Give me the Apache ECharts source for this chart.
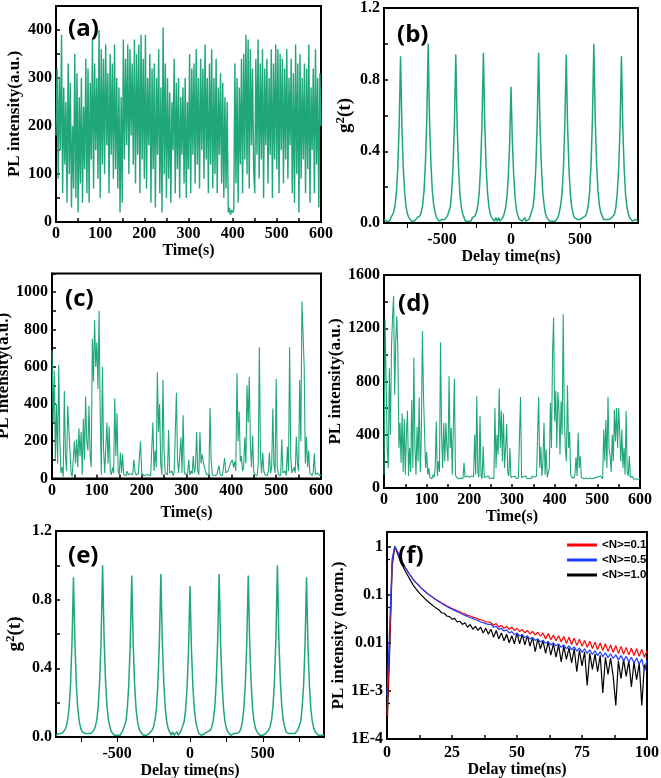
<!DOCTYPE html>
<html><head><meta charset="utf-8">
<script src="https://cdn.jsdelivr.net/npm/echarts@6/dist/echarts.min.js"></script>
<style>html,body{margin:0;padding:0;background:#fff}#c{width:661px;height:778px}</style>
</head><body><div id="c"></div><script>
// ---------------- DATA ----------------
const traceTimeStep = 2.5; // s, sampling of blinking traces (0..600 s)
const aIntensity = [
180,320,90,300,150,390,60,280,120,250,40,330,100,290,30,200,70,350,50,310,
20,260,80,300,40,240,110,340,60,320,40,290,130,380,70,330,150,300,90,400,
50,360,120,340,100,370,160,310,60,350,140,330,90,370,110,300,70,280,20,260,
40,380,130,340,160,370,100,360,180,330,120,380,80,350,140,370,60,390,130,340,
90,390,70,300,160,350,40,320,110,330,30,300,140,360,60,280,20,405,100,330,
50,300,90,270,40,250,150,340,60,290,110,300,50,260,140,280,80,300,50,250,
110,350,60,320,140,330,80,360,120,300,70,340,150,320,90,370,130,300,60,330,
120,360,70,300,100,340,60,280,140,310,80,290,50,260,70,250,20,30,15,25,
20,25,330,80,300,40,280,120,340,60,350,130,390,100,380,70,360,160,320,110,
60,340,140,380,90,330,130,360,50,320,160,340,80,300,140,360,50,330,130,370,
110,360,60,350,150,340,80,320,130,360,90,300,160,340,60,310,40,370,100,330,
20,350,90,300,130,330,60,320,110,370,40,280,150,320,60,360,120,300,30,310,
200];
const cIntensity = [
690,300,580,100,400,80,610,200,30,60,10,470,120,40,390,380,150,30,10,20,
200,80,210,60,270,120,250,20,320,100,440,200,150,390,120,60,750,520,850,600,
730,480,900,350,20,600,160,30,20,300,80,280,40,20,60,30,430,120,350,40,
20,140,30,130,20,30,15,40,20,15,25,15,20,100,40,20,15,25,15,200,
30,20,15,25,20,15,20,25,15,20,300,40,150,60,570,250,400,80,20,530,
150,30,40,20,260,30,20,40,15,30,20,460,100,30,20,220,30,340,40,20,
15,30,100,20,40,25,120,30,60,250,40,20,250,80,130,90,60,40,20,30,
20,380,100,20,30,15,25,20,15,70,20,30,15,20,110,30,20,40,60,80,
80,100,60,90,40,565,200,360,90,120,40,60,220,80,500,300,546,180,60,230,
40,20,30,15,80,704,120,30,140,40,20,30,15,40,140,30,60,376,80,30,
534,60,20,30,15,210,30,20,40,15,170,40,704,120,30,20,60,30,224,80,
40,528,200,950,940,600,80,224,60,150,30,20,15,30,135,20,15,30,20,15,
20];
const dIntensity = [
100,1268,816,300,150,900,400,1050,1281,1444,700,1100,1290,1017,300,490,190,560,120,520,
100,400,580,90,300,120,660,150,980,300,100,460,200,680,120,400,1180,700,420,150,
270,100,150,80,90,70,100,80,150,500,90,200,120,1093,400,150,490,200,490,300,
200,841,300,450,100,90,820,100,80,90,70,85,75,90,70,190,80,70,90,75,
80,70,90,75,85,400,100,690,120,80,540,90,70,313,80,70,85,75,90,70,
80,75,90,70,603,150,400,250,748,300,580,200,560,150,300,480,120,90,300,80,
70,85,75,90,70,80,75,90,683,80,70,85,75,90,70,80,75,85,70,90,
75,80,70,90,80,683,150,310,90,200,490,100,290,80,90,150,640,300,1000,1281,
500,730,300,720,590,250,650,400,1306,560,300,200,772,300,420,100,80,90,75,100,
230,90,414,150,240,80,90,70,85,75,90,70,80,75,90,70,85,75,65,80,
70,85,75,90,80,70,440,200,510,150,685,300,240,120,400,200,590,350,600,300,
600,420,200,440,150,300,100,578,120,90,240,80,70,85,65,80,70,85,65,75,
70];
const g2Start = -920, g2End = 920, g2Step = 10; // ns
const g2TickValues = [-750, -500, -250, 0, 250, 500, 750];
const g2LabelValues = [-500, 0, 500];
const bG2 = [
0.02,0.01,
0.01,0.02,0.01,0.03,0.04,0.06,0.10,0.17,0.31,0.55,0.93,0.53,0.30,0.17,0.09,0.05,0.03,0.02,0.01,0.02,
0.01,0.02,0.03,0.02,0.04,0.06,0.10,0.18,0.33,0.58,1.00,0.57,0.33,0.18,0.10,0.06,0.03,0.02,0.01,0.01,
0.02,0.01,0.02,0.03,0.04,0.05,0.09,0.17,0.31,0.55,0.94,0.54,0.31,0.16,0.09,0.05,0.03,0.01,0.02,0.01,
0.02,0.01,0.03,0.02,0.04,0.06,0.10,0.17,0.32,0.56,0.95,0.55,0.31,0.17,0.09,0.05,0.03,0.02,0.01,0.03,
0.01,0.03,0.01,0.02,0.03,0.05,0.08,0.14,0.25,0.44,0.76,0.45,0.26,0.14,0.07,0.04,0.02,0.03,0.01,0.02,
0.03,0.01,0.02,0.02,0.04,0.05,0.09,0.17,0.31,0.56,0.95,0.55,0.32,0.17,0.10,0.05,0.03,0.02,0.01,0.02,
0.01,0.02,0.01,0.02,0.03,0.06,0.10,0.17,0.31,0.55,0.94,0.54,0.30,0.16,0.09,0.05,0.03,0.02,0.02,0.01,
0.02,0.01,0.03,0.02,0.04,0.06,0.10,0.18,0.33,0.58,1.00,0.58,0.33,0.18,0.10,0.06,0.04,0.02,0.01,0.02,
0.01,0.02,0.02,0.03,0.04,0.05,0.09,0.17,0.30,0.54,0.93,0.53,0.30,0.16,0.09,0.05,0.03,0.02,0.01,0.01,
0.02,0.01,0.01];
const eG2 = [
0.01,0.02,
0.02,0.01,0.02,0.02,0.04,0.06,0.10,0.17,0.31,0.55,0.93,0.54,0.30,0.16,0.09,0.05,0.03,0.02,0.02,0.01,
0.02,0.01,0.02,0.03,0.04,0.06,0.10,0.18,0.33,0.58,1.00,0.58,0.33,0.18,0.10,0.06,0.03,0.02,0.01,0.02,
0.01,0.02,0.01,0.02,0.04,0.05,0.09,0.17,0.31,0.55,0.94,0.54,0.30,0.16,0.09,0.05,0.03,0.02,0.01,0.02,
0.01,0.02,0.02,0.03,0.04,0.06,0.10,0.17,0.32,0.56,0.95,0.55,0.32,0.17,0.09,0.05,0.03,0.01,0.03,0.01,
0.02,0.03,0.01,0.02,0.04,0.05,0.09,0.16,0.29,0.51,0.88,0.51,0.29,0.16,0.09,0.05,0.02,0.03,0.01,0.02,
0.02,0.01,0.03,0.02,0.04,0.06,0.10,0.17,0.32,0.56,0.95,0.55,0.31,0.17,0.09,0.05,0.03,0.02,0.01,0.02,
0.02,0.01,0.02,0.01,0.03,0.05,0.09,0.17,0.31,0.55,0.94,0.54,0.31,0.16,0.09,0.05,0.03,0.02,0.01,0.02,
0.01,0.02,0.02,0.03,0.04,0.06,0.10,0.18,0.33,0.58,1.00,0.57,0.33,0.18,0.10,0.06,0.03,0.02,0.02,0.01,
0.02,0.01,0.02,0.02,0.04,0.05,0.09,0.17,0.30,0.54,0.93,0.53,0.30,0.16,0.09,0.05,0.03,0.02,0.01,0.02,
0.01,0.02,0.01];
const decayStep = 1; // ns, 0..100 ns
const decayN01 = [
0.0003,0.01,0.5,1.0,0.78,0.58,0.45,0.36,0.30,0.25,
0.21,0.18,0.16,0.14,0.125,0.112,0.101,0.093,0.085,0.078,
0.073,0.067,0.063,0.058,0.055,0.051,0.049,0.046,0.044,0.041,
0.040,0.037,0.036,0.034,0.033,0.031,0.030,0.029,0.027,0.027,
0.026,0.023,0.025,0.021,0.023,0.020,0.022,0.019,0.021,0.018,
0.020,0.017,0.019,0.016,0.018,0.0152,0.0172,0.0145,0.0165,0.0138,
0.016,0.012,0.0155,0.0115,0.0145,0.011,0.014,0.0105,0.0135,0.0098,
0.013,0.0092,0.0125,0.0088,0.0118,0.0085,0.0112,0.008,0.0108,0.0076,
0.0103,0.0072,0.0099,0.0069,0.0095,0.0066,0.009,0.0063,0.0087,0.006,
0.0084,0.0058,0.008,0.0056,0.0077,0.0054,0.0075,0.0052,0.0073,0.005,
0.0068];
const decayN05 = [
0.0008,0.02,0.55,1.0,0.8,0.6,0.46,0.37,0.30,0.25,
0.21,0.18,0.16,0.14,0.125,0.112,0.1,0.092,0.084,0.077,
0.071,0.066,0.061,0.057,0.053,0.05,0.047,0.044,0.042,0.039,
0.037,0.035,0.033,0.032,0.030,0.029,0.027,0.026,0.025,0.024,
0.024,0.021,0.022,0.019,0.02,0.0175,0.0185,0.016,0.017,0.0148,
0.0158,0.0138,0.0147,0.0128,0.0137,0.012,0.0128,0.0112,0.012,0.0104,
0.0113,0.0097,0.0106,0.009,0.01,0.0085,0.0095,0.008,0.009,0.0075,
0.0086,0.0071,0.0082,0.0067,0.0078,0.0063,0.0075,0.006,0.0071,0.0057,
0.0068,0.0054,0.0065,0.0051,0.0062,0.0049,0.0059,0.0047,0.0056,0.0044,
0.0054,0.0042,0.0052,0.004,0.005,0.0038,0.0048,0.0036,0.0046,0.0026,
0.0044];
const decayN10 = [
0.00015,0.006,0.4,1.0,0.72,0.52,0.4,0.31,0.25,0.2,
0.16,0.135,0.115,0.1,0.089,0.078,0.07,0.063,0.057,0.052,
0.048,0.042,0.041,0.036,0.035,0.031,0.032,0.027,0.028,0.024,
0.026,0.021,0.024,0.019,0.022,0.018,0.021,0.016,0.02,0.015,
0.019,0.013,0.018,0.012,0.016,0.011,0.015,0.01,0.014,0.0095,
0.016,0.0095,0.015,0.009,0.014,0.0085,0.013,0.0065,0.012,0.0075,
0.011,0.006,0.0105,0.0055,0.0095,0.005,0.009,0.004,0.0085,0.0045,
0.0078,0.0038,0.0075,0.0025,0.007,0.0033,0.0065,0.0013,0.006,0.0028,
0.0058,0.0025,0.0055,0.0009,0.005,0.0022,0.0048,0.002,0.0005,0.0042,
0.0018,0.0045,0.002,0.0042,0.0012,0.004,0.0017,0.0038,0.0005,0.0035,
0.0025];
const decayLabels = ['<N>=0.1', '<N>=0.5', '<N>=1.0'];
const panelLabels = ['(a)', '(b)', '(c)', '(d)', '(e)', '(f)'];

// ---------------- CHART ----------------
const SERIF = '"Liberation Serif","Times New Roman",serif';
const GREEN = '#1fa67a';
const lbl = {fontFamily: SERIF, fontWeight: 'bold', fontSize: 16, color: '#000'};
const toXY = (vals, start, step) => vals.map((v, i) => [start + i * step, v]);
const every = (step, digits) => v => {
  const r = v / step;
  return Math.abs(r - Math.round(r)) < 1e-6 ? (digits ? v.toFixed(digits) : String(Math.round(v))) : '';
};

function axis(o) {
  const base = {
    type: 'value', nameLocation: 'middle',
    axisLine: {show: true, onZero: false, lineStyle: {color: '#000', width: 2}},
    axisTick: {show: true, inside: true, length: 4, lineStyle: {color: '#000', width: 1.5}},
    splitLine: {show: false},
    nameTextStyle: Object.assign({}, lbl),
  };
  const res = Object.assign(base, o);
  res.axisLabel = Object.assign({}, lbl, {margin: 4}, o.axisLabel || {});
  res.axisTick = Object.assign({}, base.axisTick, o.axisTick || {});
  return res;
}

const grids = [
  {left: 56, top: 6, width: 265, height: 216},
  {left: 384, top: 8, width: 254, height: 215},
  {left: 52, top: 273.5, width: 269, height: 205},
  {left: 384, top: 275, width: 256, height: 213},
  {left: 56, top: 531, width: 268, height: 206},
  {left: 387, top: 532, width: 260, height: 207},
].map(g => Object.assign({show: true, borderColor: '#000', borderWidth: 2, containLabel: false, outerBoundsMode: 'none'}, g));

const g2Name = '{n|g}{s|2}{n|(t)}';
const g2Rich = {
  n: {fontFamily: SERIF, fontWeight: 'bold', fontSize: 19, lineHeight: 22, color: '#000'},
  s: {fontFamily: SERIF, fontWeight: 'bold', fontSize: 13, lineHeight: 13, verticalAlign: 'top', color: '#000'}
};
const g2X = (gi, gap) => axis({
  gridIndex: gi, min: g2Start, max: g2End, name: 'Delay time(ns)', nameGap: gap,
  axisTick: {customValues: g2TickValues},
  axisLabel: {customValues: g2LabelValues, formatter: v => String(v), margin: 9}
});

const xAxes = [
  axis({gridIndex: 0, min: 0, max: 600, interval: 50, name: 'Time(s)', nameGap: 20, axisLabel: {formatter: every(100)}}),
  g2X(1, 25),
  axis({gridIndex: 2, min: 0, max: 600, interval: 50, name: 'Time(s)', nameGap: 26, axisLabel: {formatter: every(100)}}),
  axis({gridIndex: 3, min: 0, max: 600, interval: 50, name: 'Time(s)', nameGap: 20, axisLabel: {formatter: every(100)}}),
  g2X(4, 26),
  axis({gridIndex: 5, min: 0, max: 100, interval: 12.5, name: 'Delay time(ns)', nameGap: 20, axisLabel: {formatter: every(25), margin: 6}}),
];
const logFmt = v => {
  const e = Math.log10(v), r = Math.round(e);
  if (Math.abs(e - r) > 1e-6 || r > 0) return '';
  if (r === 0) return '1';
  if (r === -1) return '0.1';
  if (r === -2) return '0.01';
  return '1E' + r;
};
const big = Object.assign({}, lbl, {fontSize: 17});
const yAxes = [
  axis({gridIndex: 0, min: 0, max: 450, interval: 50, name: 'PL intensity(a.u.)', nameGap: 33, nameTextStyle: big, axisLabel: {formatter: every(100)}}),
  axis({gridIndex: 1, min: 0, max: 1.2, interval: 0.2, name: g2Name, nameGap: 28, nameTextStyle: {rich: g2Rich}, axisLabel: {formatter: every(0.4, 1)}}),
  axis({gridIndex: 2, min: 0, max: 1100, interval: 100, name: 'PL intensity(a.u.)', nameGap: 32, nameTextStyle: big, axisLabel: {formatter: every(200)}}),
  axis({gridIndex: 3, min: 0, max: 1600, interval: 200, name: 'PL intensity(a.u.)', nameGap: 36, nameTextStyle: big, axisLabel: {formatter: every(400)}}),
  axis({gridIndex: 4, min: 0, max: 1.2, interval: 0.2, name: g2Name, nameGap: 30, nameTextStyle: {rich: g2Rich}, axisLabel: {formatter: every(0.4, 1)}}),
  axis({gridIndex: 5, type: 'log', logBase: 10, min: 1e-4, max: 2, name: 'PL intensity (norm.)', nameGap: 37, nameTextStyle: big, axisLabel: {formatter: logFmt}, minorTick: {show: true, splitNumber: 2, length: 3, lineStyle: {color: '#000', width: 1.2}}}),
];

const line = (idx, data, color, width, name) => ({
  type: 'line', name: name, xAxisIndex: idx, yAxisIndex: idx, data: data,
  showSymbol: false, symbol: 'none', clip: true,
  lineStyle: {color: color, width: width}, itemStyle: {color: color}
});

const series = [
  line(0, toXY(aIntensity, 0, traceTimeStep), GREEN, 1.4),
  line(1, toXY(bG2, g2Start, g2Step), GREEN, 1.5),
  line(2, toXY(cIntensity, 0, traceTimeStep), GREEN, 1.1),
  line(3, toXY(dIntensity, 0, traceTimeStep), GREEN, 1.1),
  line(4, toXY(eG2, g2Start, g2Step), GREEN, 1.5),
  line(5, toXY(decayN10, 0, decayStep), '#000000', 1.2, decayLabels[2]),
  line(5, toXY(decayN01, 0, decayStep), '#ff0000', 1.2, decayLabels[0]),
  line(5, toXY(decayN05, 0, decayStep), '#1f3cff', 1.2, decayLabels[1]),
];

const labelPos = [[68, 29], [397, 35], [65, 299], [398, 304], [68, 556], [398, 556]];
const graphic = panelLabels.map((t, i) => ({
  type: 'text', x: labelPos[i][0], y: labelPos[i][1], z: 100,
  style: {text: t, font: 'bold 24px "Open Sans", sans-serif', fill: '#000', verticalAlign: 'middle', align: 'left'}
}));

const chart = echarts.init(document.getElementById('c'), null, {renderer: 'canvas'});
chart.setOption({
  animation: false,
  backgroundColor: '#fff',
  grid: grids, xAxis: xAxes, yAxis: yAxes, series: series, graphic: graphic,
  legend: {
    data: decayLabels, orient: 'vertical', left: 567, top: 539, padding: 0,
    itemWidth: 30, itemHeight: 3, itemGap: 3, icon: 'rect', selectedMode: false,
    textStyle: {fontFamily: 'Arial', fontWeight: 'bold', fontSize: 11.5, color: '#000'}
  }
});
</script></body></html>
